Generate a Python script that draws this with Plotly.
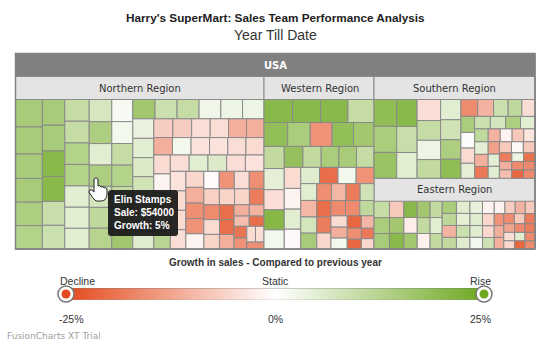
import plotly.graph_objects as go

W, H = 548, 354
title = "Harry's SuperMart: Sales Team Performance Analysis"
subtitle = "Year Till Date"
root_name = "USA"
region_names = ["Northern Region", "Western Region", "Southern Region", "Eastern Region"]
legend_stops = [-25, 0, 25]
legend_labels = ["Decline", "Static", "Rise"]
legend_ticks = ["-25%", "0%", "25%"]
legend_caption = "Growth in sales - Compared to previous year"
LOW, MID, HIGH = "#E44A1D", "#FFFFFF", "#6DA81E"

northern_sales = [
    82100, 81000, 73100, 70900, 70300, 69800,
    64100, 64100, 63600, 62400, 59600, 59100,
    59100, 59100, 58500, 58500, 57900, 57400,
    56300, 55700, 55100, 54000, 53400, 52900, 52300,
    52300, 51800, 51200, 50600, 50100, 49500, 48900,
    47800, 47800, 47300, 47300, 46700, 46700,
    46100, 45600, 45000, 44400, 43300, 42800, 42200,
    40500, 39900, 39400, 38800, 38300, 37700,
    36600, 36200, 36000, 35800, 35400, 35100,
    35000, 34900, 34800, 34700, 34500,
    34400, 34300, 34200, 34100, 34000,
    33900, 33800, 33600, 33500, 33400,
    32100, 31500, 30900, 30600, 30400,
    29800, 29300, 29000, 28700,
    27600, 27000, 26400, 25900,
    25900, 25700, 25400,
    24200, 24000, 23600,
    19100, 18600,
    17400, 16900,
    16300, 15800,
    15200, 14900,
    13300,
]
northern_growth = [
    15, 15, 15, 15, 14, 13,
    15, 15, 20, 20, 9.5, 9,
    10, 10, 13, 13, 5, 5,
    5, 7, 14, 5, 14, 7.5, 11,
    12.5, 1.5, 2, 10, 13, 10, 9,
    16, 16, 9, 10, 2.5, 3,
    3, 3.5, 5, 6, 8, 5, 5,
    5.5, -7, -7, -4.5, -4.5, -11,
    -11, -11, 2, -4, -4, -4.5,
    -5, -5, -1.5, 12, -1.5,
    12, -4.5, 5, 6, -4.5,
    -4, -4, -5, -5, -4.5,
    -5.5, -11, -15.5, -15, -1.5,
    -0.7, -15, -4.5, -15.5,
    -6.5, -6, -6, -18,
    -16, -5, -6,
    -20, -20, -11,
    -11, -10.5,
    -9, -20,
    -19, -15,
    -5, -4.5,
    -15.5,
]
western_sales = [
    73100, 70900, 69800, 66400,
    62400, 59600, 57900, 56300, 54000,
    49500, 47300, 45000, 45000, 42800,
    43300, 42200, 41100, 40700, 40500,
    38300, 37700, 36600, 36000,
    33800, 33200, 32600, 32100,
    29800, 29300, 28700, 28100,
    27600, 27000, 26400, 25900,
    25700, 25300, 25000,
    24500, 24200, 23900,
    20300, 19700,
    19700, 19400,
    17400, 17100,
    15200, 14600,
    14400,
]
western_growth = [
    20, 20, 20, 10,
    18.5, 14.5, -15, 18.5, 16,
    10.5, 4.5, -4.5, 20.5, 2,
    18, 10.5, 14.5, 15, 10,
    -5, -1.5, 5, -0.8,
    5.5, -20, 2, -15,
    5, -10, 7.5, 15,
    -15.5, -10, -18, 8,
    -20, -18, -5.5,
    -16, -16, 11,
    -5, -11,
    2, -21,
    -10, -15.5,
    -21, -18.5,
    -5.5,
]
southern_sales = [
    66400, 64700, 64100,
    60200, 57900, 57400,
    54000, 50600, 49500, 47800,
    45000, 44400, 43300, 42200,
    30900, 29300, 27000, 25300, 24200,
    23900, 23400, 22700, 22300,
    21400, 20800, 20300, 19700,
    19100, 18600, 18000, 17400,
    16900, 16700, 16300, 15800,
    15200, 14900, 14600,
    14600, 14400, 14100,
    11800, 11300,
    11300, 11000, 10800,
    10800, 10700,
    10600, 10400,
]
southern_growth = [
    19, 14.5, 17.5,
    20, 9.5, 5,
    -4.5, 10, 3, 10.5,
    5, 8, 14, 19,
    -16, -10.5, 9, 11, -4.5,
    14.5, 0.5, -5, 4.5,
    9, 7.5, 14, 5,
    11, 4.5, -11, -18.5,
    -10.5, -1.5, -7.5, -3.5,
    -13, 5, 5,
    -7.5, -1, -7.5,
    -18, -11,
    -9, 3, -19.5,
    -16, -21,
    -16, -16,
]
eastern_sales = [
    28100, 27000, 26400,
    25900, 25300, 24800,
    24000, 23400, 23100,
    23100, 22500, 21900,
    21900, 21400, 20800,
    19100, 18900, 18600, 18200,
    18200, 18000, 17800, 17400,
    16900, 16700, 16300, 16100,
    16100, 15800, 15200, 14900,
    14600, 14100, 13700, 13300,
    12600, 12400, 12200,
    11800, 11600, 11300,
    10400, 10100, 9900,
    9900, 9600,
    9600, 9300,
    9300, 9000,
]
eastern_growth = [
    10, 14.5, 15,
    -7.5, 16, 20,
    20, -2.5, 16,
    16, 10.5, -2,
    10.5, 5, 10.5,
    14.5, 11.5, -10.5, 10.5,
    5.5, 4.5, 9, 5.5,
    4, 5.5, 5, 2,
    -1.5, -5.5, -5.5, 8.5,
    -1.5, -7, -10.5, -7.5,
    -15, -11, -11,
    -16, -7.5, -18,
    -12.5, -4.5, -5.5,
    -16, -18,
    5, -21,
    -16, -16,
]
region_sales = [northern_sales, western_sales, southern_sales, eastern_sales]
region_growth = [northern_growth, western_growth, southern_growth, eastern_growth]
# Each region's tile also holds its header strip, so its leaves are weighted up.
header_allowance = [1.1426, 1.151, 1.305, 1.48]
highlight_name = "Elin Stamps"
highlight_index = 21
tooltip_lines = ["Elin Stamps", "Sale: $54000", "Growth: 5%"]


def hex_rgb(c):
    return tuple(int(c[i:i + 2], 16) for i in (1, 3, 5))


def growth_colour(g):
    end = HIGH if g >= 0 else LOW
    t = min(abs(g) / 25, 1)
    a, b = hex_rgb(MID), hex_rgb(end)
    return "rgb(%d,%d,%d)" % tuple(round(x + (y - x) * t) for x, y in zip(a, b))


def px(x):
    return x / W


def py(y):
    return 1 - y / H


def path(cmds):
    out = []
    for c in cmds:
        letter, pts = c[0], c[1:]
        coords = " ".join(
            f"{px(pts[i]):.5f},{py(pts[i + 1]):.5f}" for i in range(0, len(pts), 2)
        )
        out.append(letter + coords)
    return " ".join(out)


# Header captions are drawn as annotations, so parent sectors carry a blank label.
BLANK = "\u00a0"
ids = [root_name]
labels = [BLANK]
parents = [""]
values = [0]
colors = ["#808080"]
for name in region_names:
    ids.append(name)
    labels.append(BLANK)
    parents.append(root_name)
    values.append(0)
    colors.append("#e4e4e4")
for r, name in enumerate(region_names):
    for i, (s, g) in enumerate(zip(region_sales[r], region_growth[r])):
        ids.append(f"{name}/{i}")
        labels.append(highlight_name if (r == 0 and i == highlight_index) else f"{name} {i + 1}")
        parents.append(name)
        values.append(s * header_allowance[r])
        colors.append(growth_colour(g))

fig = go.Figure()
fig.add_trace(go.Treemap(
    ids=ids, labels=labels, parents=parents, values=values,
    branchvalues="remainder", sort=False,
    text=[BLANK] * len(ids), textinfo="text",
    marker=dict(colors=colors, depthfade=False,
                line=dict(color="#8a8a8a", width=1),
                pad=dict(t=23, l=0, r=0, b=0)),
    tiling=dict(packing="squarify", squarifyratio=1, pad=0),
    pathbar=dict(visible=False),
    domain=dict(x=[px(15.5), px(535)], y=[py(249), py(53.5)]),
    hoverinfo="skip",
))

fig.add_trace(go.Heatmap(
    x=legend_stops, y=[0, 1], z=[legend_stops, legend_stops],
    zmin=legend_stops[0], zmax=legend_stops[-1], zsmooth="best",
    colorscale=[[0, LOW], [0.5, MID], [1, HIGH]], showscale=False,
    hoverinfo="skip", xaxis="x", yaxis="y",
))
ends = [legend_stops[0], legend_stops[-1]]
fig.add_trace(go.Scatter(
    x=ends, y=[0, 0], mode="lines", cliponaxis=False, hoverinfo="skip",
    line=dict(color="rgba(165,165,165,0.5)", width=1), showlegend=False,
))
fig.add_trace(go.Scatter(
    x=ends, y=[1, 1], mode="lines", cliponaxis=False, hoverinfo="skip",
    line=dict(color="rgba(120,120,120,0.7)", width=1), showlegend=False,
))
fig.add_trace(go.Scatter(
    x=ends, y=[0.5, 0.5], mode="markers", cliponaxis=False, hoverinfo="skip",
    marker=dict(size=16, color="white", line=dict(color="#777777", width=1.5)),
    showlegend=False,
))
fig.add_trace(go.Scatter(
    x=ends, y=[0.5, 0.5], mode="markers", cliponaxis=False, hoverinfo="skip",
    marker=dict(size=9, color=[LOW, HIGH]),
    showlegend=False,
))


def note(text, x, y, size=10.5, color="#333333", family="Liberation Sans", xanchor="center", **kw):
    return dict(text=text, x=px(x), y=py(y), xref="paper", yref="paper",
                xanchor=xanchor, yanchor="middle",
                showarrow=False, font=dict(family=family, size=size, color=color), **kw)


annotations = [
    note(f"<b>{title}</b>", 275, 18, size=11.75, color="#222222"),
    note(subtitle, 275, 35, size=14, color="#333333"),
    note(f"<b>{root_name}</b>", 275, 65, size=10, color="#ffffff", family="DejaVu Sans"),
    note(region_names[0], 140, 88, size=10, family="DejaVu Sans"),
    note(region_names[1], 319.5, 88, size=10, family="DejaVu Sans"),
    note(region_names[2], 454.5, 88, size=10, family="DejaVu Sans"),
    note(region_names[3], 454.5, 189.5, size=10, family="DejaVu Sans"),
    note(f"<b>{legend_caption}</b>", 275.5, 262, size=10, color="#333333"),
    note(legend_labels[0], 77, 280.5),
    note(legend_labels[1], 275, 280.5),
    note(legend_labels[2], 480, 280.5),
    note(legend_ticks[0], 71.5, 318.5),
    note(legend_ticks[1], 275, 318.5),
    note(legend_ticks[2], 480, 318.5),
    note("FusionCharts XT Trial", 4.5, 336, size=9, color="#a0a0a0",
         family="DejaVu Sans", xanchor="left"),
    note("<br>".join(f"<b>{t}</b>" for t in tooltip_lines), 111.5, 213, size=10, color="#ffffff",
         xanchor="left", align="left"),
]

frame = path([
    ("M", 15.5, 53.5), ("L", 535, 53.5), ("L", 535, 249), ("L", 15.5, 249),
]) + " Z"
tooltip_box = path([
    ("M", 112, 190), ("L", 175, 190), ("Q", 178, 190, 178, 193), ("L", 178, 233),
    ("Q", 178, 236, 175, 236), ("L", 111, 236), ("Q", 108, 236, 108, 233),
    ("L", 108, 193), ("Q", 108, 190, 112, 190),
]) + " Z"
hand = path([
    ("M", 94, 179), ("Q", 96, 176.5, 98, 179), ("L", 98, 186), ("Q", 100, 184.5, 101, 187),
    ("Q", 103, 185.5, 104, 188), ("Q", 106, 186.5, 107, 189), ("L", 107, 195),
    ("Q", 106, 201, 101, 201), ("L", 96, 201), ("Q", 93, 199, 89, 192),
    ("Q", 89, 189, 92, 190), ("L", 94, 192),
]) + " Z"

shapes = [
    dict(type="path", path=frame, xref="paper", yref="paper",
         fillcolor="rgba(0,0,0,0)", line=dict(color="#808080", width=1.5)),
    dict(type="path", path=tooltip_box, xref="paper", yref="paper",
         fillcolor="rgba(25,25,25,0.93)", line=dict(width=0)),
    dict(type="path", path=hand, xref="paper", yref="paper",
         fillcolor="#ffffff", line=dict(color="#222222", width=1)),
]

fig.update_layout(
    width=W, height=H, autosize=False,
    margin=dict(l=0, r=0, t=0, b=0),
    paper_bgcolor="white", plot_bgcolor="white",
    showlegend=False, annotations=annotations, shapes=shapes,
    xaxis=dict(domain=[px(66), px(484)], range=[-25, 25], visible=False, fixedrange=True),
    yaxis=dict(domain=[py(300), py(288)], range=[0, 1], visible=False, fixedrange=True),
)
fig.write_html("out.html", config={"displayModeBar": False},
               post_script="document.body.style.margin='0';document.body.style.overflow='hidden';")
